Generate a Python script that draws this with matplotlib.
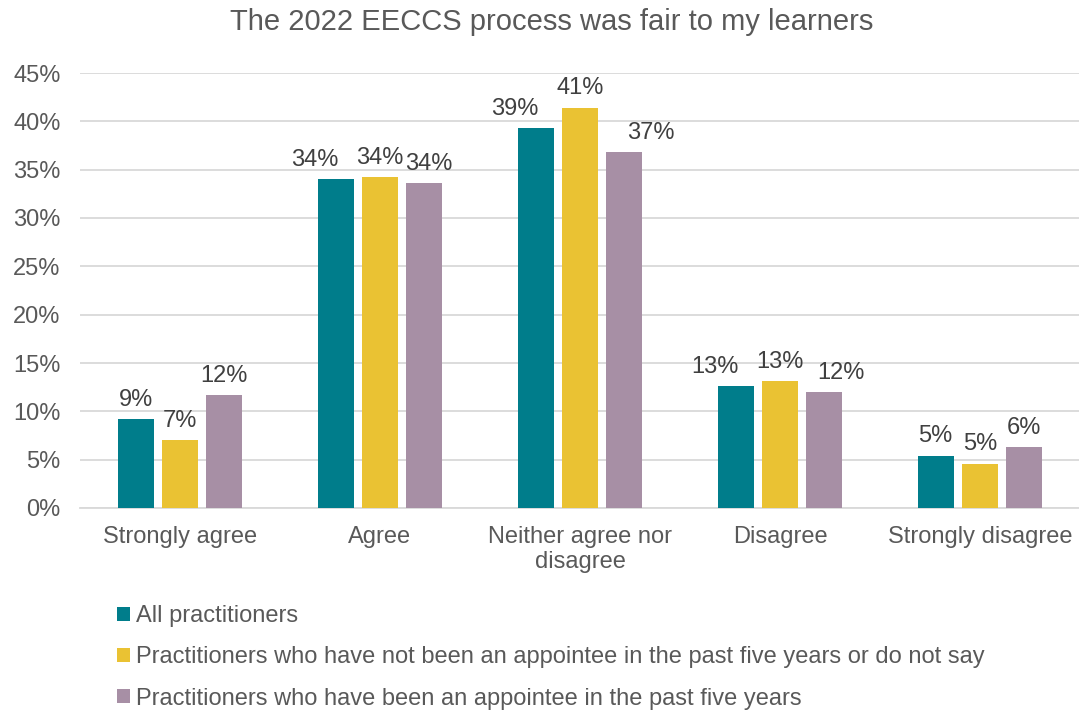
import numpy as np
import matplotlib.pyplot as plt
from matplotlib.patches import Patch

plt.rcParams['font.family'] = ['Liberation Sans', 'DejaVu Sans']

categories = ['Strongly agree', 'Agree', 'Neither agree nor\ndisagree', 'Disagree', 'Strongly disagree']
series_names = ['All practitioners',
                'Practitioners who have not been an appointee in the past five years or do not say',
                'Practitioners who have been an appointee in the past five years']
all_pract = [9.2, 34.0, 39.3, 12.6, 5.4]
not_appointee = [7.0, 34.2, 41.4, 13.1, 4.6]
appointee = [11.7, 33.6, 36.8, 12.0, 6.3]
colors = ['#007D8B', '#EAC233', '#A78FA5']

text_grey = '#595959'
label_grey = '#404040'

fig = plt.figure(figsize=(10.79, 7.13), dpi=100)
ax = fig.add_axes([80/1079, (713-508)/713, 1000/1079, 435/713])

x = np.arange(len(categories))
width = 0.18
step = 0.222
series = [all_pract, not_appointee, appointee]
for i, (vals, c) in enumerate(zip(series, colors)):
    bars = ax.bar(x + (i-1)*step, vals, width, color=c, zorder=3)
    for j, (b, v) in enumerate(zip(bars, vals)):
        # nudge labels sideways when the middle bar is taller (avoid overlap)
        dx = 0
        mid = not_appointee[j]
        if i == 0 and mid >= v:
            dx = -15
        elif i == 2 and mid > v:
            dx = 3 if mid - v < 1 else 12 if mid - v < 3 else 19
        ax.annotate('%d%%' % round(v), (b.get_x() + b.get_width()/2, v),
                    xytext=(dx, 6), textcoords='offset points',
                    ha='center', va='bottom', fontsize=17, color=label_grey)

ax.set_xlim(-0.5, len(categories) - 0.5)
ax.set_ylim(0, 45)
ax.set_yticks(np.arange(0, 46, 5))
ax.set_yticklabels(['%d%%' % t for t in np.arange(0, 46, 5)])
ax.set_xticks(x)
ax.set_xticklabels(categories)
ax.tick_params(axis='both', length=0, labelsize=17, colors=text_grey)
ax.tick_params(axis='x', pad=13)
ax.tick_params(axis='y', pad=14)
ax.grid(axis='y', color='#D9D9D9', linewidth=1.3, zorder=0)
for s in ['top', 'right', 'left']:
    ax.spines[s].set_visible(False)
ax.spines['bottom'].set_color('#D9D9D9')
ax.spines['bottom'].set_linewidth(1.3)

fig.text(552/1079, 1 - 22/713, 'The 2022 EECCS process was fair to my learners',
         ha='center', va='center', fontsize=21, color=text_grey)

handles = [Patch(facecolor=c) for c in colors]
leg = fig.legend(handles, series_names, loc='upper left', bbox_to_anchor=(117/1079, 1 - 605/713),
                 frameon=False, fontsize=17, handlelength=0.55, handleheight=0.55,
                 handletextpad=0.25, labelspacing=0.82, borderpad=0, borderaxespad=0)
for t in leg.get_texts():
    t.set_color(text_grey)

fig.savefig('out.png', dpi=100)
